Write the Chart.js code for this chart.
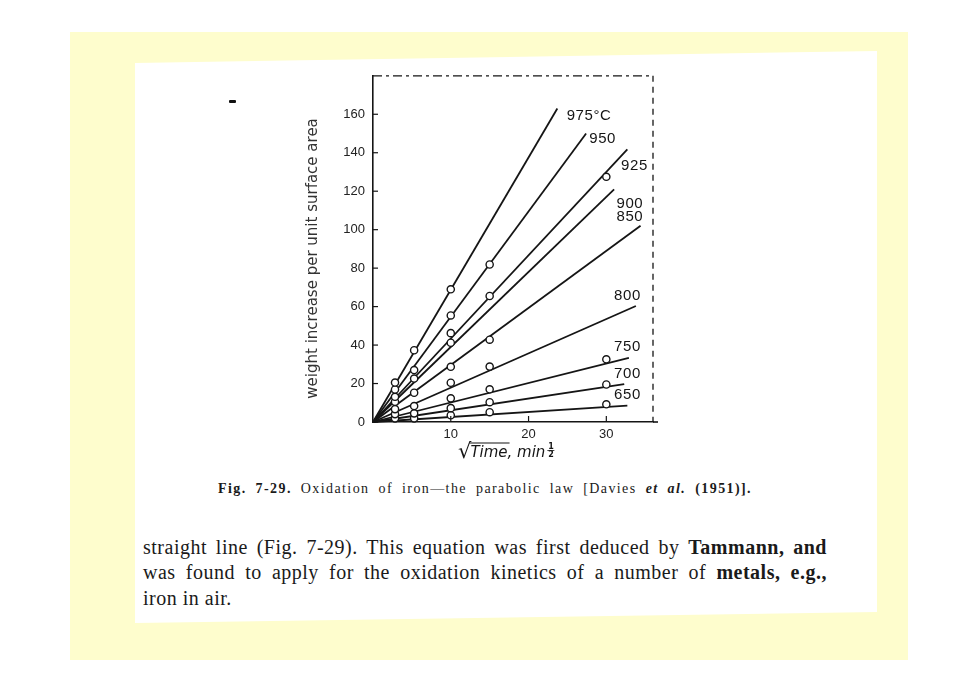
<!DOCTYPE html>
<html>
<head>
<meta charset="utf-8">
<script src="https://cdn.jsdelivr.net/npm/chart.js@4.4.1/dist/chart.umd.min.js"></script>
<style>
  html, body { margin: 0; padding: 0; background: #fff; }
  body { width: 980px; height: 692px; position: relative; overflow: hidden; }
  #yellow { position: absolute; left: 70px; top: 32px; width: 838px; height: 628px; background: #fefdcd; }
  #paper { position: absolute; left: 0; top: 0; width: 980px; height: 692px; background: #fff;
    clip-path: polygon(135px 63px, 877px 51px, 877px 612px, 135px 623px); }
  #chartBox { position: absolute; left: 290px; top: 60px; width: 390px; height: 420px; }
  .serif { position: absolute; font-family: "Liberation Serif", "Times New Roman", serif; color: #1a1a1a; white-space: nowrap; }
  .just { text-align: justify; text-align-last: justify; }
  #caption { left: 218px; top: 481px; width: 534px; font-size: 14px; line-height: 16px; letter-spacing: 1.4px; }
  .body { left: 143px; font-size: 20px; line-height: 20px; letter-spacing: 0.5px; }
  #dash { position: absolute; left: 229px; top: 100px; width: 7px; height: 3px; background: #111; border-radius: 1px; }
</style>
</head>
<body>
<div id="yellow"></div>
<div id="paper"></div>
<div id="dash"></div>
<div id="chartBox"><canvas id="myChart" width="390" height="420"></canvas></div>
<div id="caption" class="serif just"><b>Fig. 7-29.</b> Oxidation of iron—the parabolic law [Davies <b><i>et al.</i> (1951)].</b></div>
<div class="serif body just" style="top:537px;width:684px">straight line (Fig. 7-29). This equation was first deduced by <b>Tammann, and</b></div>
<div class="serif body just" style="top:562px;width:684px">was found to apply for the oxidation kinetics of a number of <b>metals, e.g.,</b></div>
<div class="serif body" style="top:588px">iron in air.</div>

<script>
// sqrt(time) of the measurements: 8, 28, 100, 225, 900 min
const sqrtTime = [2.83, 5.29, 10, 15, 30];

const temps = ['975', '950', '925', '900', '850', '800', '750', '700', '650'];
const tempLabels = ['975°C', '950', '925', '900', '850', '800', '750', '700', '650'];

// measured points (weight increase), null where no circle is drawn
const pts975 = [20.5, 37.3, 69.0, null, null];
const pts950 = [16.9, 27.0, 55.4, 81.9, null];
const pts925 = [13.1, 22.6, 46.2, 65.5, 127.5];
const pts900 = [10.5, null, 41.2, null, null];
const pts850 = [6.7, 15.2, 28.7, 42.8, null];
const pts800 = [4.1, 8.3, 20.4, 28.8, null];
const pts750 = [1.9, 4.5, 12.3, 17.0, 32.6];
const pts700 = [null, 1.9, 7.2, 10.3, 19.5];
const pts650 = [null, null, 3.5, 5.1, 9.2];
const allPts = [pts975, pts950, pts925, pts900, pts850, pts800, pts750, pts700, pts650];

// fitted straight lines from the origin to their end
const lineEndX = [23.7, 27.4, 32.7, 31.0, 34.4, 33.8, 32.9, 32.3, 32.7];
const lineEndY = [163, 150, 141.8, 121, 102, 60.3, 33.3, 19.7, 8.5];

// where each temperature label sits (data units, left/middle of text)
const labelX = [24.9, 27.8, 31.9, 31.3, 31.3, 31.0, 31.0, 31.0, 31.0];
const labelY = [159, 147, 133, 113.5, 106.7, 65.8, 39.0, 25.0, 14.0];

const yTicks = [0, 20, 40, 60, 80, 100, 120, 140, 160];
const xTicks = [10, 20, 30];

const ink = '#151515';

const datasets = [];
temps.forEach((t, i) => {
  datasets.push({
    label: t + ' points',
    data: sqrtTime.map((x, j) => ({ x: x, y: allPts[i][j] })).filter(p => p.y !== null),
    showLine: false,
    pointRadius: 3.6,
    pointBackgroundColor: '#fff',
    pointBorderColor: ink,
    pointBorderWidth: 1.4,
    order: 0,
    clip: false
  });
  datasets.push({
    label: t,
    data: [{ x: 0, y: 0 }, { x: lineEndX[i], y: lineEndY[i] }],
    showLine: true,
    borderColor: ink,
    borderWidth: 1.8,
    pointRadius: 0,
    order: 1,
    clip: false
  });
});

const extras = {
  id: 'extras',
  afterDraw(chart) {
    const { ctx, chartArea, scales } = chart;
    const x = scales.x, y = scales.y;
    ctx.save();
    ctx.strokeStyle = ink;
    ctx.fillStyle = ink;

    // dashed top and right frame
    ctx.lineWidth = 1.3;
    ctx.setLineDash([9, 4, 3, 4]);
    ctx.beginPath();
    ctx.moveTo(chartArea.left, chartArea.top);
    ctx.lineTo(chartArea.right, chartArea.top);
    ctx.stroke();
    ctx.setLineDash([6, 5]);
    ctx.beginPath();
    ctx.moveTo(chartArea.right, chartArea.top);
    ctx.lineTo(chartArea.right, chartArea.bottom);
    ctx.stroke();
    ctx.setLineDash([]);

    // x axis runs a bit past the frame
    ctx.lineWidth = 1.6;
    ctx.beginPath();
    ctx.moveTo(chartArea.right, chartArea.bottom);
    ctx.lineTo(chartArea.right + 5, chartArea.bottom);
    ctx.stroke();

    // inward ticks
    ctx.lineWidth = 1.2;
    yTicks.forEach(v => {
      const py = y.getPixelForValue(v);
      ctx.beginPath();
      ctx.moveTo(chartArea.left, py);
      ctx.lineTo(chartArea.left + 5, py);
      ctx.stroke();
    });
    xTicks.forEach(v => {
      const px = x.getPixelForValue(v);
      ctx.beginPath();
      ctx.moveTo(px, chartArea.bottom);
      ctx.lineTo(px, chartArea.bottom - 6);
      ctx.stroke();
    });

    // temperature labels
    ctx.font = '15px "Liberation Sans", sans-serif';
    ctx.letterSpacing = '0.6px';
    ctx.textBaseline = 'middle';
    ctx.textAlign = 'left';
    tempLabels.forEach((s, i) => {
      ctx.fillText(s, x.getPixelForValue(labelX[i]), y.getPixelForValue(labelY[i]));
    });
    ctx.letterSpacing = '0px';

    // x axis title: √Time, min^1/2
    let tx = chartArea.left + 85;
    const by = chartArea.bottom + 35;
    ctx.textBaseline = 'alphabetic';
    ctx.font = '21px "DejaVu Sans", sans-serif';
    ctx.fillText('√', tx, by + 1);
    tx += ctx.measureText('√').width - 1;
    ctx.font = 'italic 15px "DejaVu Sans", sans-serif';
    const wTime = ctx.measureText('Time').width;
    ctx.lineWidth = 1.2;
    ctx.beginPath();
    ctx.moveTo(tx - 1, by - 14);
    ctx.lineTo(tx + wTime + 2, by - 14);
    ctx.stroke();
    ctx.fillText('Time, min', tx, by);
    tx += ctx.measureText('Time, min').width + 2;
    ctx.font = 'bold 8px "DejaVu Sans", sans-serif';
    ctx.fillText('1', tx + 1, by - 8);
    ctx.fillText('2', tx + 1, by);
    ctx.lineWidth = 0.8;
    ctx.beginPath();
    ctx.moveTo(tx, by - 6.5);
    ctx.lineTo(tx + 7, by - 6.5);
    ctx.stroke();
    ctx.restore();
  }
};

const ctx = document.getElementById('myChart');

new Chart(ctx, {
  type: 'scatter',
  data: { datasets: datasets },
  options: {
    responsive: false,
    animation: false,
    layout: { padding: { top: 15, right: 27, left: 0, bottom: 0 } },
    scales: {
      x: {
        type: 'linear',
        min: 0,
        max: 36,
        afterFit: s => { s.height = 58; },
        afterBuildTicks: s => { s.ticks = xTicks.map(v => ({ value: v })); },
        grid: { drawOnChartArea: false, drawTicks: false },
        border: { display: true, color: ink, width: 1.6 },
        ticks: {
          padding: 5,
          color: '#222',
          font: { family: '"Liberation Sans", sans-serif', size: 13 }
        }
      },
      y: {
        type: 'linear',
        min: 0,
        max: 180,
        afterFit: s => { s.width = 83; },
        afterBuildTicks: s => { s.ticks = yTicks.map(v => ({ value: v })); },
        grid: { drawOnChartArea: false, drawTicks: false },
        border: { display: true, color: ink, width: 1.6 },
        ticks: {
          padding: 8,
          color: '#222',
          font: { family: '"Liberation Sans", sans-serif', size: 13 }
        },
        title: {
          display: true,
          text: 'weight increase per unit surface area\u00a0\u00a0\u00a0\u00a0',
          color: '#333',
          padding: { top: 14, bottom: 0 },
          font: { family: '"DejaVu Sans", sans-serif', size: 15 }
        }
      }
    },
    plugins: {
      legend: { display: false },
      tooltip: { enabled: false }
    }
  },
  plugins: [extras]
});
</script>
</body>
</html>
